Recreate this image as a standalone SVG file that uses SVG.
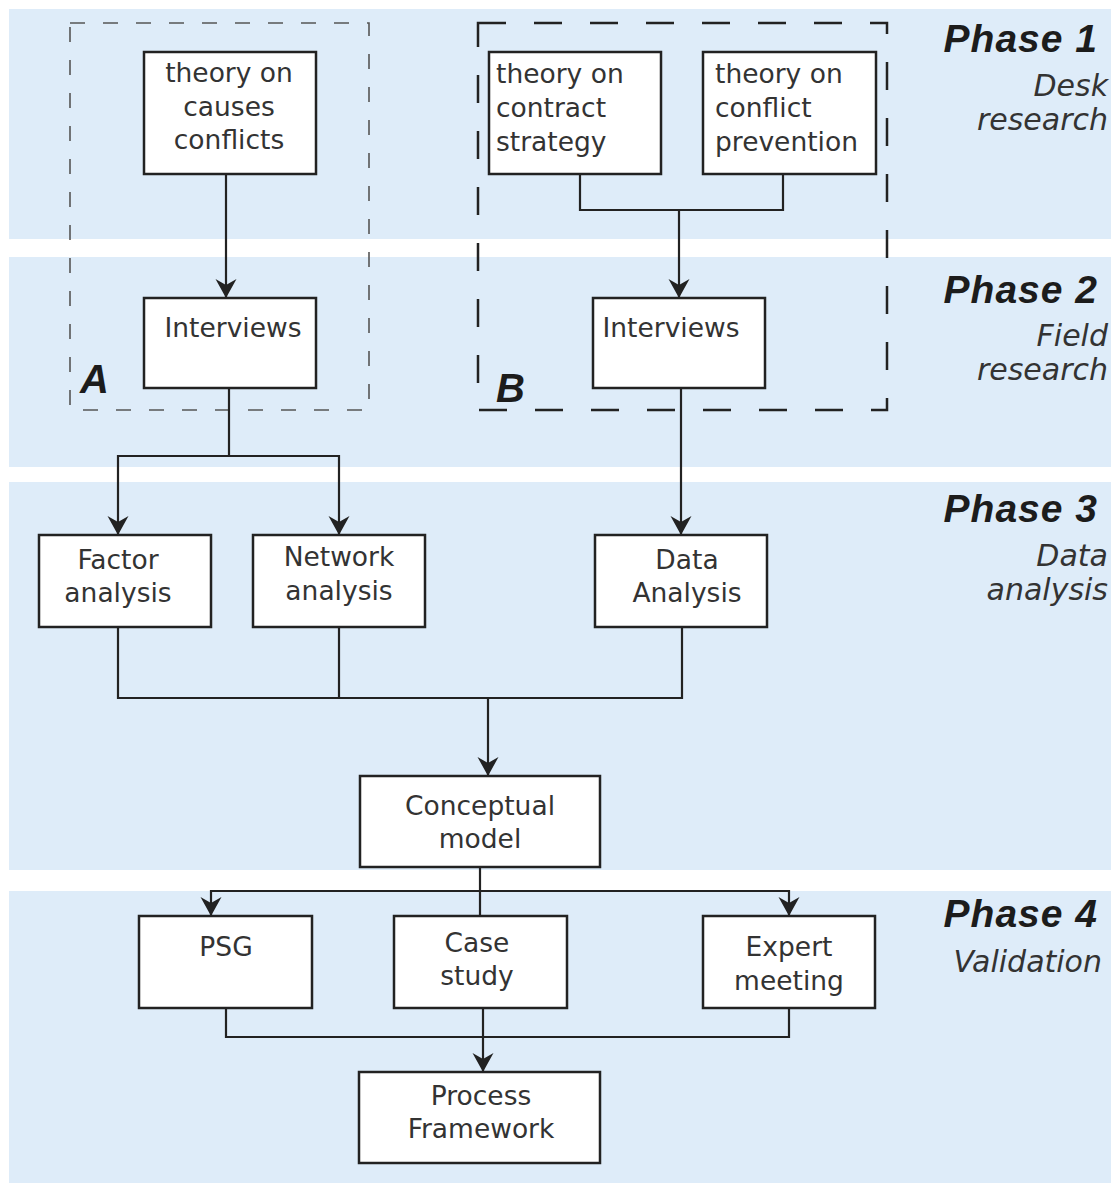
<svg xmlns="http://www.w3.org/2000/svg" width="1115" height="1183" viewBox="0 0 1115 1183">
  <defs>
    <style>
      .band { fill: #deecf9; }
      .node rect { fill: #ffffff; stroke: #222222; stroke-width: 2.5; }
      .node text { font-family: "DejaVu Sans", "Liberation Sans", sans-serif; font-size: 26.5px; fill: #333333; }
      .c { text-anchor: middle; }
      .conn { fill: none; stroke: #222222; stroke-width: 2.2; }
      .phase { font-family: "Liberation Sans", Arial, sans-serif; font-weight: bold; font-style: italic; font-size: 39px; fill: #1c1c1c; text-anchor: end; letter-spacing: 1px; }
      .sub { font-family: "DejaVu Sans", "Liberation Sans", sans-serif; font-style: italic; font-size: 30px; fill: #333333; text-anchor: end; }
      .tag { font-family: "Liberation Sans", Arial, sans-serif; font-weight: bold; font-style: italic; font-size: 40px; fill: #1c1c1c; }
    </style>
    <marker id="arrow" markerUnits="userSpaceOnUse" markerWidth="24" markerHeight="24" viewBox="-20 -12 22 24" refX="0" refY="0" orient="auto">
      <path d="M0,0 L-19,-10.5 L-13,0 L-19,10.5 Z" fill="#222222"/>
    </marker>
  </defs>

  <!-- phase bands -->
  <g id="bands">
    <rect class="band" x="9" y="9" width="1102" height="230"/>
    <rect class="band" x="9" y="257" width="1102" height="210"/>
    <rect class="band" x="9" y="482" width="1102" height="388"/>
    <rect class="band" x="9" y="891" width="1102" height="292"/>
  </g>

  <!-- phase labels -->
  <g id="phase-labels">
    <text class="phase" x="1098" y="52">Phase 1</text>
    <text class="sub" x="1108" y="96">Desk</text>
    <text class="sub" x="1108" y="130">research</text>
    <text class="phase" x="1098" y="303">Phase 2</text>
    <text class="sub" x="1108" y="346">Field</text>
    <text class="sub" x="1108" y="380">research</text>
    <text class="phase" x="1098" y="522">Phase 3</text>
    <text class="sub" x="1108" y="566">Data</text>
    <text class="sub" x="1108" y="600">analysis</text>
    <text class="phase" x="1098" y="927">Phase 4</text>
    <text class="sub" x="1102" y="972">Validation</text>
  </g>

  <!-- dashed groupings -->
  <g id="group-A">
    <rect x="70" y="23" width="299" height="387" fill="none" stroke="#555555" stroke-width="1.6" stroke-dasharray="15 18"/>
    <text class="tag" x="80" y="393">A</text>
  </g>
  <g id="group-B">
    <rect x="478" y="23" width="409" height="387" fill="none" stroke="#222222" stroke-width="2.5" stroke-dasharray="28 28"/>
    <text class="tag" x="496" y="402">B</text>
  </g>

  <!-- connectors -->
  <g id="connectors">
    <path class="conn" d="M226,174 V298" marker-end="url(#arrow)"/>
    <path class="conn" d="M580,174 V210 H783 V174"/>
    <path class="conn" d="M679,210 V298" marker-end="url(#arrow)"/>
    <path class="conn" d="M229,388 V456 H118 V535" marker-end="url(#arrow)"/>
    <path class="conn" d="M229,456 H339 V535" marker-end="url(#arrow)"/>
    <path class="conn" d="M681,388 V535" marker-end="url(#arrow)"/>
    <path class="conn" d="M118,627 V698 H682 V627"/>
    <path class="conn" d="M339,627 V698"/>
    <path class="conn" d="M488,698 V776" marker-end="url(#arrow)"/>
    <path class="conn" d="M480,867 V916"/>
    <path class="conn" d="M480,891 H211 V916" marker-end="url(#arrow)"/>
    <path class="conn" d="M480,891 H789 V916" marker-end="url(#arrow)"/>
    <path class="conn" d="M226,1008 V1037 H789 V1008"/>
    <path class="conn" d="M483,1008 V1072" marker-end="url(#arrow)"/>
  </g>

  <!-- nodes -->
  <g id="theory-causes" class="node">
    <rect x="144" y="52" width="172" height="122"/>
    <text class="c" x="229" y="82">theory on</text>
    <text class="c" x="229" y="116">causes</text>
    <text class="c" x="229" y="149">conflicts</text>
  </g>
  <g id="theory-contract" class="node">
    <rect x="489" y="52" width="172" height="122"/>
    <text x="496" y="83">theory on</text>
    <text x="496" y="117">contract</text>
    <text x="496" y="151">strategy</text>
  </g>
  <g id="theory-prevention" class="node">
    <rect x="703" y="52" width="173" height="122"/>
    <text x="715" y="83">theory on</text>
    <text x="715" y="117">conflict</text>
    <text x="715" y="151">prevention</text>
  </g>
  <g id="interviews-a" class="node">
    <rect x="144" y="298" width="172" height="90"/>
    <text class="c" x="233" y="337">Interviews</text>
  </g>
  <g id="interviews-b" class="node">
    <rect x="593" y="298" width="172" height="90"/>
    <text class="c" x="671" y="337">Interviews</text>
  </g>
  <g id="factor-analysis" class="node">
    <rect x="39" y="535" width="172" height="92"/>
    <text class="c" x="118" y="569">Factor</text>
    <text class="c" x="118" y="602">analysis</text>
  </g>
  <g id="network-analysis" class="node">
    <rect x="253" y="535" width="172" height="92"/>
    <text class="c" x="339" y="566">Network</text>
    <text class="c" x="339" y="600">analysis</text>
  </g>
  <g id="data-analysis" class="node">
    <rect x="595" y="535" width="172" height="92"/>
    <text class="c" x="687" y="569">Data</text>
    <text class="c" x="687" y="602">Analysis</text>
  </g>
  <g id="conceptual-model" class="node">
    <rect x="360" y="776" width="240" height="91"/>
    <text class="c" x="480" y="815">Conceptual</text>
    <text class="c" x="480" y="848">model</text>
  </g>
  <g id="psg" class="node">
    <rect x="139" y="916" width="173" height="92"/>
    <text class="c" x="226" y="956">PSG</text>
  </g>
  <g id="case-study" class="node">
    <rect x="394" y="916" width="173" height="92"/>
    <text class="c" x="477" y="952">Case</text>
    <text class="c" x="477" y="985">study</text>
  </g>
  <g id="expert-meeting" class="node">
    <rect x="703" y="916" width="172" height="92"/>
    <text class="c" x="789" y="956">Expert</text>
    <text class="c" x="789" y="990">meeting</text>
  </g>
  <g id="process-framework" class="node">
    <rect x="359" y="1072" width="241" height="91"/>
    <text class="c" x="481" y="1105">Process</text>
    <text class="c" x="481" y="1138">Framework</text>
  </g>
</svg>
